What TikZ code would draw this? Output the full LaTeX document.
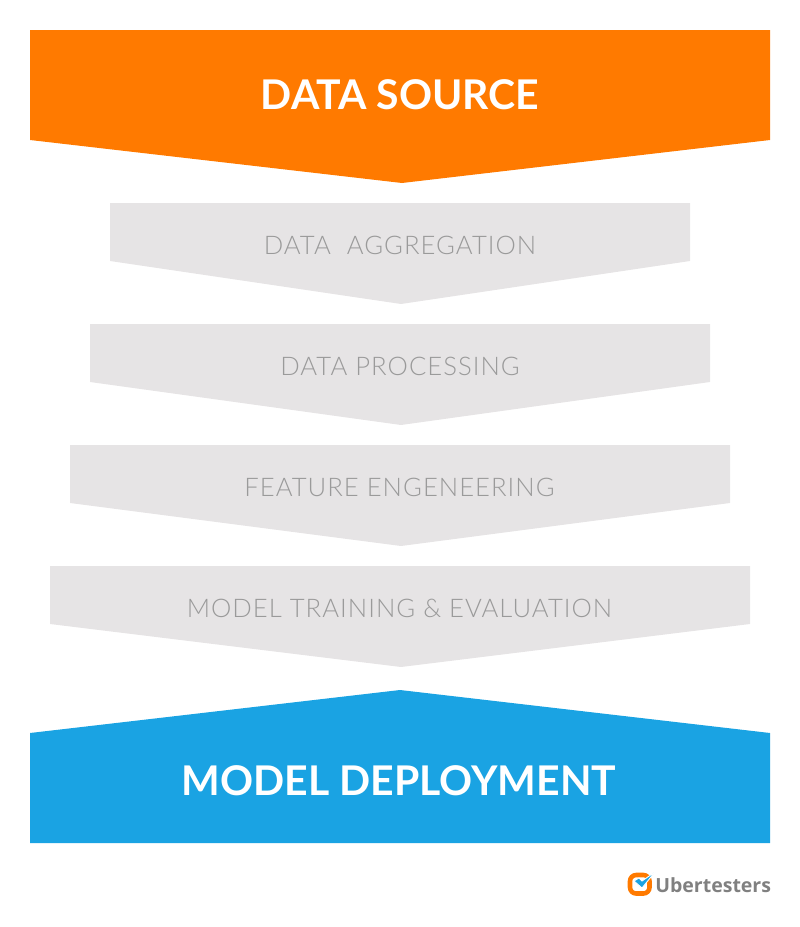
\documentclass[tikz,border=0pt]{standalone}
\usepackage{fontspec}
\setmainfont{Lato}
\newfontfamily\lightfont{Lato Light}
\newfontfamily\logofont{Open Sans}
\usepackage{tikz}
\usetikzlibrary{calc}

\definecolor{sourceorange}{HTML}{FF7A00}
\definecolor{stepgrey}{HTML}{E6E4E5}
\definecolor{deployblue}{HTML}{1AA3E3}
\definecolor{steptext}{HTML}{9A9A9A}
\definecolor{logogrey}{HTML}{808080}

\tikzset{
  bigtext/.style={text=white,font=\fontsize{23.3pt}{28pt}\selectfont\bfseries},
  steplabel/.style={text=steptext,font=\lightfont\fontsize{14.6pt}{17pt}\selectfont\addfontfeature{LetterSpace=4}},
  logotext/.style={text=logogrey,font=\logofont\fontsize{11.1pt}{14pt}\selectfont\bfseries,inner sep=0pt,anchor=west}
}

\begin{document}
\begin{tikzpicture}[x=0.02cm,y=-0.02cm]

\useasboundingbox (0,0) rectangle (800,927);

\fill[sourceorange] (30,30) -- (770,30) -- (770,140) -- (402,183) -- (30,140) -- cycle;
\node[bigtext] (source) at (400,95) {DATA SOURCE};

\fill[stepgrey] (110,203) -- (690,203) -- (690,261) -- (401,304) -- (110,261) -- cycle;
\node[steplabel] (aggregation) at (400,245) {DATA\ \ AGGREGATION};

\fill[stepgrey] (90,324) -- (710,324) -- (710,382) -- (401,425) -- (90,382) -- cycle;
\node[steplabel] (processing) at (400,366) {DATA PROCESSING};

\fill[stepgrey] (70,445) -- (730,445) -- (730,503) -- (401,546) -- (70,503) -- cycle;
\node[steplabel] (engineering) at (399.5,487) {FEATURE ENGENEERING};

\fill[stepgrey] (50,566) -- (750,566) -- (750,624) -- (401,667) -- (50,624) -- cycle;
\node[steplabel] (training) at (399.5,608) {MODEL TRAINING \& EVALUATION};

\fill[deployblue] (30,733) -- (400,690) -- (770,733) -- (770,843) -- (30,843) -- cycle;
\node[bigtext] (deployment) at (399,781) {MODEL DEPLOYMENT};

\draw[sourceorange,line width=2.6pt,rounded corners=3.5pt] (630,875) rectangle (649.5,893.5);
\fill[deployblue,draw=white,line width=0.5pt] (634,881) -- (639,878) -- (642,881) -- (655,872) -- (642,888) -- cycle;
\node[logotext] (logo) at (655,885) {Ubertesters};

\end{tikzpicture}
\end{document}
